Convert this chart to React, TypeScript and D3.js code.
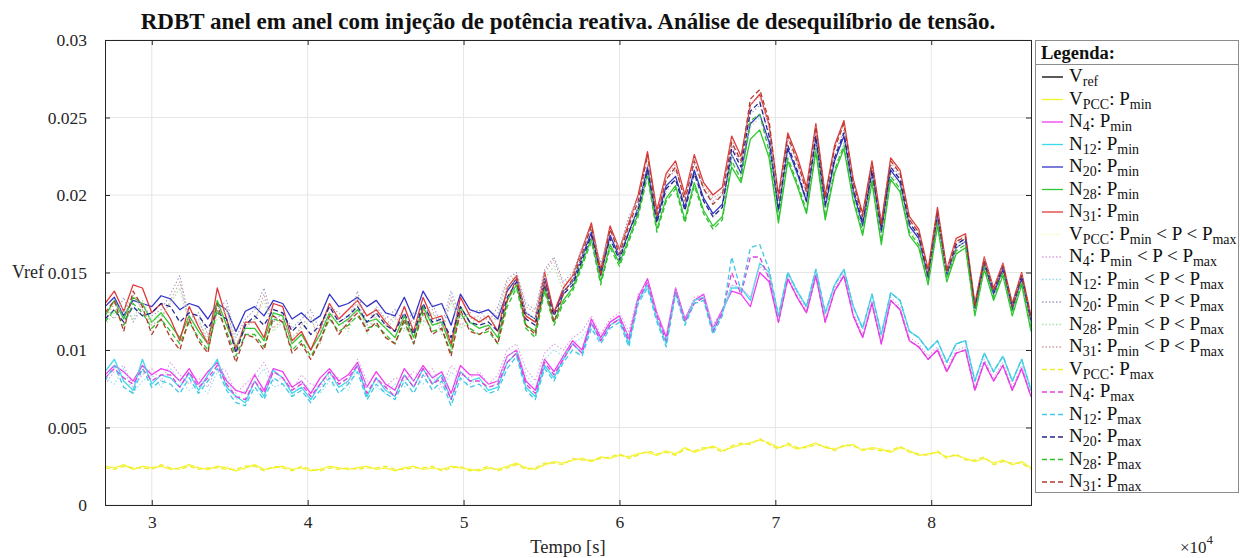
import React, { useEffect, useRef } from 'react';
import * as d3 from 'd3';

// sample times [s]: every 600 s from 27000 to 86400
const TIME = d3.range(27000, 86401, 600);
// values below are in units of 1e-4
const UNIT = 1e-4;

const X_TICKS = [30000, 40000, 50000, 60000, 70000, 80000];
const X_LABELS = ['3', '4', '5', '6', '7', '8'];
const Y_TICKS = [0, 0.005, 0.01, 0.015, 0.02, 0.025, 0.03];
const Y_LABELS = ['0', '0.005', '0.01', '0.015', '0.02', '0.025', '0.03'];

const vpccMin = [25,24,26,23,25,24,25,23,24,26, 24,23,25,24,22,24,26,23,24,25, 23,24,22,23,25,24,23,24,25,23, 24,22,24,25,23,24,23,25,24,23, 22,24,23,25,27,24,23,26,28,27, 29,30,28,31,30,32,31,33,34,32, 35,33,37,34,36,38,35,37,39,40, 42,40,37,39,36,38,40,37,36,38, 39,35,37,36,34,37,35,32,33,34, 31,32,30,28,30,27,29,26,28,24];
const n4Min = [84,90,86,80,90,84,88,86,80,88, 78,86,92,80,74,72,84,74,88,86, 76,80,72,82,88,80,84,92,76,86, 78,74,88,80,90,82,86,72,90,84, 84,78,80,96,100,80,74,94,86,96, 106,100,120,108,118,122,108,134,146,124, 108,140,120,132,136,114,126,138,136,128, 150,144,118,146,134,124,148,118,138,148, 122,108,130,104,132,126,106,102,94,100, 86,98,100,74,92,80,90,74,88,70];
const n12Min = [86,94,80,74,94,78,84,82,76,85, 74,84,94,76,70,66,80,70,87,82, 72,76,68,78,86,76,80,90,70,82, 74,70,84,76,88,78,84,68,86,80, 82,74,76,92,98,76,70,90,82,94, 104,98,117,106,116,120,104,132,142,120, 104,138,118,132,134,112,124,140,140,132, 156,150,122,150,138,128,152,124,142,152, 128,114,136,110,137,132,112,108,100,106, 92,104,106,80,98,86,96,80,94,74];
const n20Min = [128,134,122,132,130,128,135,133,126,130, 128,120,130,126,112,125,128,122,132,130, 120,124,118,122,136,128,130,134,128,132, 124,122,134,120,138,128,130,116,136,126, 124,126,120,138,146,124,120,146,124,138, 144,160,176,148,174,160,176,192,218,184, 206,212,192,216,198,188,194,226,214,246, 252,234,190,230,214,196,236,192,222,238, 202,180,214,176,216,208,180,172,146,186, 148,166,170,126,155,136,152,126,146,118];
const n28Min = [122,132,120,134,130,118,124,116,108,122, 112,104,132,116,102,114,114,106,124,122, 104,110,100,110,124,116,120,126,118,120, 114,108,122,108,128,116,118,102,128,118, 114,116,108,132,142,116,112,140,118,132, 140,156,172,144,168,156,172,188,214,178, 198,206,184,208,190,180,186,218,208,236, 242,224,182,222,206,188,228,184,214,230, 196,174,208,168,210,202,174,166,142,180, 144,162,166,122,152,132,148,122,142,112];
const n31Min = [130,138,125,142,140,124,130,120,106,128, 115,104,140,120,100,118,118,108,130,128, 106,112,100,114,130,120,126,132,122,126, 118,112,128,112,134,120,122,104,134,122, 118,122,112,140,148,122,118,150,124,140, 148,165,182,152,180,165,182,200,228,190, 214,222,200,226,208,200,205,238,225,258, 265,245,200,240,225,205,246,200,232,248, 210,188,222,182,224,216,186,178,152,192, 152,172,175,130,160,140,156,130,150,122];

const vpccMid = [24,25,24,25,23,25,24,24,23,25, 25,22,24,25,23,23,25,24,23,24, 24,23,23,24,24,25,22,25,24,24, 23,23,25,24,24,23,24,24,23,24, 23,23,24,24,26,25,24,25,27,28, 28,31,29,30,31,31,32,34,33,33, 34,34,36,35,35,37,36,38,38,41, 41,41,38,38,37,37,39,38,37,37, 38,36,36,37,35,36,36,33,32,33, 32,31,31,29,29,28,28,27,27,25];
const n4Mid = [78,86,90,76,84,88,80,92,84,78, 82,76,90,86,72,78,84,92,80,82, 74,84,78,76,84,82,78,94,80,80, 76,82,80,86,82,88,76,90,84,82, 86,78,84,100,104,88,80,98,104,100, 108,112,122,110,120,124,112,136,144,124, 110,140,120,134,136,116,126,142,140,134, 154,148,120,148,136,126,150,120,140,150, 124,110,132,106,134,128,108,104,96,102, 88,100,102,76,94,82,92,76,90,72];
const n12Mid = [82,78,88,72,80,84,76,88,80,74, 78,72,86,82,68,74,80,88,76,78, 70,80,74,72,80,78,74,90,76,76, 72,78,76,82,78,84,72,86,80,78, 82,74,80,96,100,84,76,94,100,96, 104,108,118,106,116,120,108,132,140,120, 106,136,118,132,134,114,124,142,140,134, 156,150,122,150,138,128,152,124,142,152, 128,114,136,110,137,132,112,108,100,106, 92,104,106,80,98,86,96,80,94,74];
const n20Mid = [126,120,134,118,128,122,126,136,148,120, 124,110,126,132,108,120,126,140,118,124, 114,120,126,112,128,124,118,138,116,128, 120,126,118,124,122,130,116,138,120,124, 126,118,128,146,150,130,126,152,160,144, 150,166,178,156,176,166,186,198,220,186, 210,216,198,220,204,196,200,232,220,252, 258,240,196,236,220,200,240,196,226,242, 206,184,218,178,220,212,182,174,148,188, 150,168,172,128,158,138,154,128,148,120];
const n28Mid = [116,124,128,120,132,118,122,130,140,116, 118,108,120,126,104,114,120,132,112,118, 108,114,120,106,122,118,112,130,110,122, 114,120,112,118,116,124,110,132,114,118, 120,112,122,140,146,124,120,146,154,138, 144,160,172,150,170,160,178,192,214,180, 202,210,190,212,196,186,192,226,212,244, 250,232,188,228,212,194,234,190,218,234, 200,178,212,172,214,206,178,170,144,184, 146,166,170,124,154,134,150,124,144,116];
const n31Mid = [120,130,124,136,126,116,120,132,144,118, 120,104,124,128,100,116,118,136,114,120, 104,116,122,104,124,120,114,134,112,124, 116,122,114,120,118,126,112,134,116,120, 122,114,124,144,148,128,124,150,158,142, 148,164,180,154,178,164,184,198,224,188, 212,220,198,224,206,198,202,236,222,258, 264,244,198,238,222,202,244,198,230,246, 208,186,220,180,222,214,184,176,150,190, 152,170,174,130,159,139,155,129,149,121];

const vpccMax = [24,23,25,24,24,23,26,24,23,25, 23,24,24,23,23,25,25,22,25,24, 22,25,23,22,24,23,24,23,24,24, 25,23,23,24,24,25,22,24,25,22, 23,25,22,24,26,23,24,27,27,26, 30,29,29,30,31,33,30,32,35,33, 34,32,36,35,37,37,34,38,40,39, 43,39,36,40,37,37,39,38,35,39, 38,36,36,35,35,38,34,33,32,35, 30,33,29,29,31,26,28,27,27,23];
const n4Max = [82,88,82,78,88,80,84,84,76,86, 76,82,90,78,70,68,80,72,86,82, 74,78,70,78,86,78,82,90,72,82, 76,70,84,76,88,78,82,68,86,80, 80,76,78,92,98,78,72,92,84,94, 104,98,118,106,116,120,106,132,144,122, 106,138,118,130,134,112,124,150,136,160, 160,146,118,146,134,124,148,118,138,148, 122,108,130,104,132,126,106,102,94,100, 86,98,100,74,92,80,90,74,88,70];
const n12Max = [80,90,76,72,88,76,80,78,72,82, 72,80,88,74,66,64,76,68,82,78, 70,74,66,74,82,72,78,86,68,78, 72,68,80,72,84,74,80,64,82,76, 78,72,74,88,96,74,68,88,80,92, 100,96,114,104,114,118,102,130,140,118, 102,136,116,130,132,110,122,160,138,166, 168,152,122,150,138,128,152,124,142,152, 128,114,136,110,137,132,112,108,100,106, 92,104,106,80,98,86,96,80,94,74];
const n20Max = [120,126,118,128,122,124,130,128,118,124, 122,114,124,120,98,116,122,116,126,124, 112,118,110,116,128,118,122,128,118,124, 116,112,124,110,130,118,120,108,128,118, 116,118,112,134,144,120,116,142,122,136, 142,158,174,150,172,158,176,190,216,182, 204,210,190,214,196,186,192,230,218,254, 260,238,190,232,216,196,238,194,224,240, 204,182,216,178,218,210,182,174,148,188, 150,168,172,128,157,138,154,128,148,120];
const n28Max = [118,126,116,130,124,114,120,112,104,118, 108,100,126,112,96,110,110,102,120,118, 100,106,96,106,120,112,116,122,114,116, 110,104,118,104,124,112,114,98,124,114, 110,112,104,128,140,114,108,138,116,130, 138,154,170,142,166,154,170,186,212,176, 196,204,182,206,188,178,184,222,210,248, 252,228,184,224,208,190,230,186,216,232, 198,176,210,170,212,204,176,168,144,182, 146,164,168,124,154,134,150,124,144,114];
const n31Max = [124,132,112,138,128,110,120,108,100,120, 106,98,130,110,92,110,108,100,122,118, 98,104,94,106,122,110,118,124,112,118, 108,104,120,104,126,110,114,96,126,112, 110,114,104,132,146,116,110,144,118,136, 146,162,180,148,178,162,180,196,226,186, 210,218,196,222,204,194,200,234,222,262, 268,248,198,238,222,202,244,198,230,246, 208,186,220,180,222,214,184,176,150,190, 150,170,173,128,158,138,154,128,148,120];

type Series = { label: string; data: number[] | null; color: string; dash: string | null };

const DOT = '1.5,2';
const DASH = '5,3';

const SERIES: Series[] = [
  { label: 'V_{ref}', data: null, color: '#000000', dash: null },
  { label: 'V_{PCC}: P_{min}', data: vpccMin, color: '#f4f42a', dash: null },
  { label: 'N_{4}: P_{min}', data: n4Min, color: '#f23cf2', dash: null },
  { label: 'N_{12}: P_{min}', data: n12Min, color: '#3ed8ec', dash: null },
  { label: 'N_{20}: P_{min}', data: n20Min, color: '#3434c8', dash: null },
  { label: 'N_{28}: P_{min}', data: n28Min, color: '#2ec82e', dash: null },
  { label: 'N_{31}: P_{min}', data: n31Min, color: '#e03838', dash: null },
  { label: 'V_{PCC}: P_{min} < P < P_{max}', data: vpccMid, color: '#fafab4', dash: DOT },
  { label: 'N_{4}: P_{min} < P < P_{max}', data: n4Mid, color: '#d6a2e2', dash: DOT },
  { label: 'N_{12}: P_{min} < P < P_{max}', data: n12Mid, color: '#92dcea', dash: DOT },
  { label: 'N_{20}: P_{min} < P < P_{max}', data: n20Mid, color: '#9c9cc6', dash: DOT },
  { label: 'N_{28}: P_{min} < P < P_{max}', data: n28Mid, color: '#a8dca8', dash: DOT },
  { label: 'N_{31}: P_{min} < P < P_{max}', data: n31Mid, color: '#d6a0a0', dash: DOT },
  { label: 'V_{PCC}: P_{max}', data: vpccMax, color: '#eeee30', dash: DASH },
  { label: 'N_{4}: P_{max}', data: n4Max, color: '#e040e0', dash: DASH },
  { label: 'N_{12}: P_{max}', data: n12Max, color: '#40c8e6', dash: DASH },
  { label: 'N_{20}: P_{max}', data: n20Max, color: '#25258e', dash: DASH },
  { label: 'N_{28}: P_{max}', data: n28Max, color: '#30c030', dash: DASH },
  { label: 'N_{31}: P_{max}', data: n31Max, color: '#b23a2a', dash: DASH },
];

const FONT = "'Liberation Serif', 'Times New Roman', serif";

// split "N_{31}: P_{max}" into plain / subscript pieces
const splitLabel = (label: string) => {
  const out: { t: string; sub: boolean }[] = [];
  const re = /_\{([^}]*)\}/g;
  let last = 0;
  let m;
  while ((m = re.exec(label))) {
    if (m.index > last) out.push({ t: label.slice(last, m.index), sub: false });
    out.push({ t: m[1], sub: true });
    last = re.lastIndex;
  }
  if (last < label.length) out.push({ t: label.slice(last), sub: false });
  return out;
};

export default function App() {
  const ref = useRef<SVGSVGElement>(null);

  useEffect(() => {
    const svg = d3.select(ref.current);
    svg.selectAll('*').remove();

    const width = 1240;
    const height = 558;
    const margin = { top: 40, right: 209, bottom: 53, left: 105 };
    const x0 = margin.left;
    const x1 = width - margin.right;
    const y0 = height - margin.bottom;
    const y1 = margin.top;

    const x = d3.scaleLinear().domain([27000, 86400]).range([x0, x1]);
    const y = d3.scaleLinear().domain([0, 0.03]).range([y0, y1]);

    svg.append('rect').attr('width', width).attr('height', height).attr('fill', '#fff');

    // grid
    const grid = svg.append('g').attr('stroke', '#e6e6e6').attr('stroke-width', 1);
    X_TICKS.forEach((t) => {
      grid.append('line').attr('x1', x(t)).attr('x2', x(t)).attr('y1', y0).attr('y2', y1);
    });
    Y_TICKS.forEach((t) => {
      grid.append('line').attr('x1', x0).attr('x2', x1).attr('y1', y(t)).attr('y2', y(t));
    });

    // clip + lines
    svg.append('defs').append('clipPath').attr('id', 'plot-clip')
      .append('rect').attr('x', x0).attr('y', y1).attr('width', x1 - x0).attr('height', y0 - y1);

    const line = d3.line<number>()
      .x((_, i) => x(TIME[i]))
      .y((d) => y(d * UNIT));

    const lines = svg.append('g').attr('clip-path', 'url(#plot-clip)');
    SERIES.forEach((s) => {
      if (!s.data) return;
      lines.append('path')
        .datum(s.data)
        .attr('fill', 'none')
        .attr('stroke', s.color)
        .attr('stroke-width', s.dash === DOT ? 1.1 : 1.3)
        .attr('stroke-dasharray', s.dash)
        .attr('stroke-linejoin', 'round')
        .attr('d', line);
    });

    // axes (inward ticks, box)
    const axisColor = '#262626';
    const styleAxis = (g: any) => {
      g.attr('font-family', FONT).attr('font-size', 17.5);
      g.selectAll('path').attr('stroke', axisColor);
      g.selectAll('line').attr('stroke', axisColor);
      g.selectAll('text').attr('fill', axisColor).attr('font-family', FONT).attr('font-size', 17.5);
    };

    svg.append('g')
      .attr('transform', `translate(0,${y0})`)
      .call(d3.axisBottom(x).tickValues(X_TICKS).tickFormat((_, i) => X_LABELS[i]).tickSize(-5).tickPadding(11))
      .call(styleAxis);
    svg.append('g')
      .attr('transform', `translate(0,${y1})`)
      .call(d3.axisTop(x).tickValues(X_TICKS).tickFormat(() => '').tickSize(-5))
      .call(styleAxis);
    svg.append('g')
      .attr('transform', `translate(${x0},0)`)
      .call(d3.axisLeft(y).tickValues(Y_TICKS).tickFormat((_, i) => Y_LABELS[i]).tickSize(-5).tickPadding(18))
      .call(styleAxis);
    svg.append('g')
      .attr('transform', `translate(${x1},0)`)
      .call(d3.axisRight(y).tickValues(Y_TICKS).tickFormat(() => '').tickSize(-5))
      .call(styleAxis);
    svg.selectAll('.domain').attr('stroke-width', 1);

    // title and axis labels
    svg.append('text')
      .attr('x', (x0 + x1) / 2)
      .attr('y', 29)
      .attr('text-anchor', 'middle')
      .attr('font-family', FONT)
      .attr('font-weight', 'bold')
      .attr('font-size', 23)
      .attr('fill', '#111')
      .text('RDBT anel em anel com injeção de potência reativa. Análise de desequilíbrio de tensão.');

    svg.append('text')
      .attr('x', (x0 + x1) / 2)
      .attr('y', 553)
      .attr('text-anchor', 'middle')
      .attr('font-family', FONT)
      .attr('font-size', 18.5)
      .attr('fill', axisColor)
      .text('Tempo [s]');

    svg.append('text')
      .attr('x', 12)
      .attr('y', 278)
      .attr('font-family', FONT)
      .attr('font-size', 18)
      .attr('fill', axisColor)
      .text('Vref');

    const exp = svg.append('text')
      .attr('x', 1180)
      .attr('y', 553)
      .attr('font-family', FONT)
      .attr('font-size', 17)
      .attr('fill', axisColor);
    exp.append('tspan').text('×10');
    exp.append('tspan').attr('font-size', 13).attr('dy', -9).text('4');

    // legend
    const lg = svg.append('g');
    lg.append('rect')
      .attr('x', 1035.5).attr('y', 40.5).attr('width', 203).attr('height', 452)
      .attr('fill', '#fff').attr('stroke', '#8c8c8c');
    lg.append('line')
      .attr('x1', 1035.5).attr('x2', 1238.5).attr('y1', 64.5).attr('y2', 64.5)
      .attr('stroke', '#8c8c8c');
    lg.append('text')
      .attr('x', 1041).attr('y', 59)
      .attr('font-family', FONT).attr('font-weight', 'bold').attr('font-size', 18.5)
      .attr('fill', '#111')
      .text('Legenda:');

    SERIES.forEach((s, i) => {
      const cy = 77 + i * 22.5;
      lg.append('line')
        .attr('x1', 1042).attr('x2', 1063).attr('y1', cy).attr('y2', cy)
        .attr('stroke', s.color).attr('stroke-width', 1.3)
        .attr('stroke-dasharray', s.dash);
      const txt = lg.append('text')
        .attr('x', 1069).attr('y', cy + 5)
        .attr('font-family', FONT).attr('font-size', 19)
        .attr('fill', '#111');
      let inSub = false;
      splitLabel(s.label).forEach((p) => {
        const ts = txt.append('tspan').text(p.t);
        if (p.sub && !inSub) ts.attr('dy', 4).attr('font-size', 14);
        else if (p.sub) ts.attr('font-size', 14);
        else if (inSub) ts.attr('dy', -4);
        inSub = p.sub;
      });
    });
  }, []);

  return (
    <svg
      ref={ref}
      width={1240}
      height={558}
      style={{ position: 'absolute', left: 0, top: 0, display: 'block' }}
    />
  );
}
